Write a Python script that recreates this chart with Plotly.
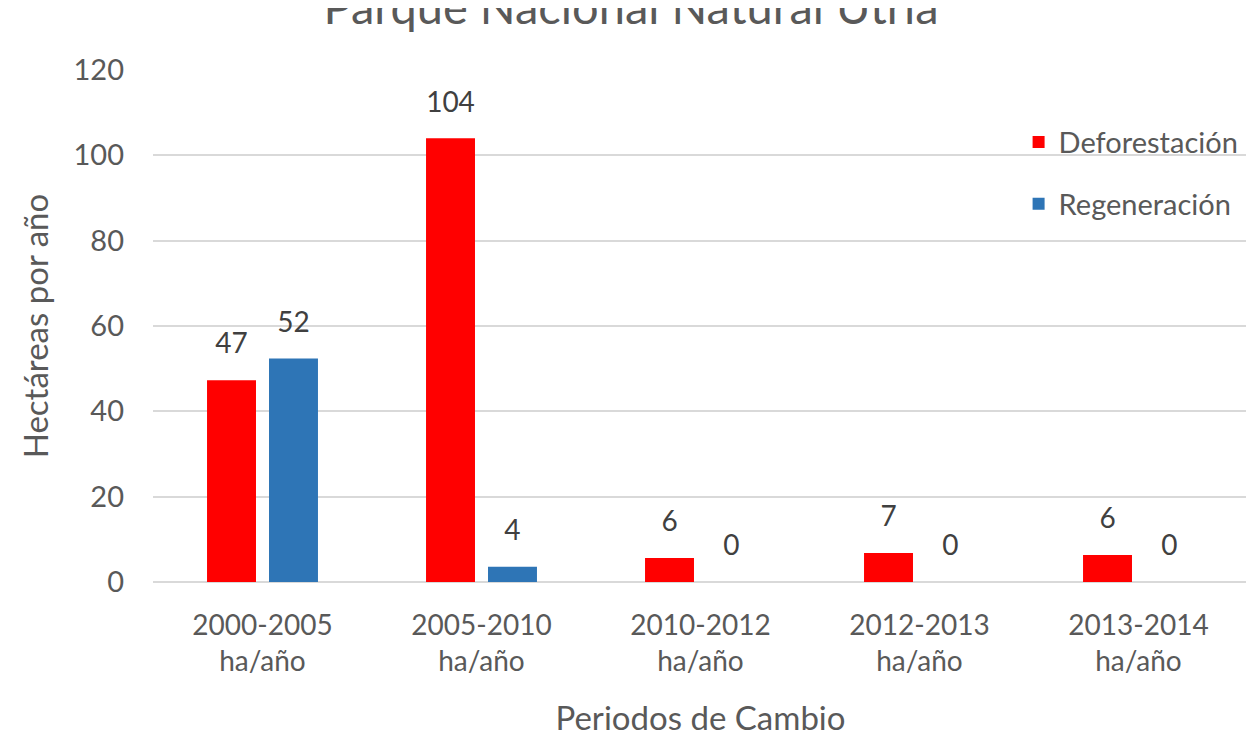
import plotly.graph_objects as go

categories = ["2000-2005<br>ha/año", "2005-2010<br>ha/año", "2010-2012<br>ha/año",
              "2012-2013<br>ha/año", "2013-2014<br>ha/año"]
deforestacion = [47.3, 104.0, 5.6, 6.8, 6.3]
regeneracion = [52.4, 3.6, 0, 0, 0]

gray = "#595959"
font_family = "Lato, 'Open Sans', sans-serif"
label_font = dict(size=28, color="#404040", family=font_family)

fig = go.Figure()
for name, vals, color, grp in [("Deforestación", deforestacion, "#FF0000", "d"),
                               ("Regeneración", regeneracion, "#2E75B6", "r")]:
    fig.add_trace(go.Bar(
        x=categories, y=vals, name=name,
        marker=dict(color=color, line=dict(width=0)),
        offsetgroup=grp, legendgroup=grp,
    ))
for name, vals, grp in [("Deforestación", deforestacion, "d"),
                        ("Regeneración", regeneracion, "r")]:
    fig.add_trace(go.Scatter(
        x=categories, y=vals, mode="markers+text", showlegend=False,
        marker=dict(size=30, opacity=0),
        texttemplate="%{y:.0f}", textposition="top center",
        textfont=label_font, offsetgroup=grp, legendgroup=grp,
        cliponaxis=False, hoverinfo="skip",
    ))

fig.update_layout(
    width=1246, height=738,
    paper_bgcolor="white", plot_bgcolor="white",
    margin=dict(l=145, r=6, t=62, b=164),
    barmode="group", bargap=0.434, bargroupgap=0.21,
    scattermode="group", scattergap=0.434,
    font=dict(family=font_family, color=gray),
    title=dict(text="Parque Nacional Natural Utría", x=0.5, xanchor="center",
               y=1.0, yanchor="middle", yref="container",
               font=dict(size=47, color=gray, family=font_family)),
    legend=dict(x=0.7905, xanchor="left", y=0.909, yanchor="top",
                font=dict(size=29, color=gray, family=font_family),
                tracegroupgap=21, bgcolor="rgba(0,0,0,0)"),
    xaxis=dict(
        automargin=False,
        tickfont=dict(size=28, color=gray, family=font_family),
        ticklabelstandoff=24,
        title=dict(text="Periodos de Cambio", font=dict(size=33, color=gray, family=font_family),
                   standoff=30),
        showline=False, ticks="", showgrid=False,
    ),
    yaxis=dict(
        automargin=False,
        range=[0, 120], dtick=20,
        tickfont=dict(size=29, color=gray, family=font_family),
        ticklabelstandoff=28,
        title=dict(text="Hectáreas por año", font=dict(size=33, color=gray, family=font_family),
                   standoff=14),
        showgrid=True, gridcolor="#D9D9D9", gridwidth=2,
        zeroline=True, zerolinecolor="#D9D9D9", zerolinewidth=2,
        ticks="", showline=False,
    ),
)

fig.write_html("out.html")
